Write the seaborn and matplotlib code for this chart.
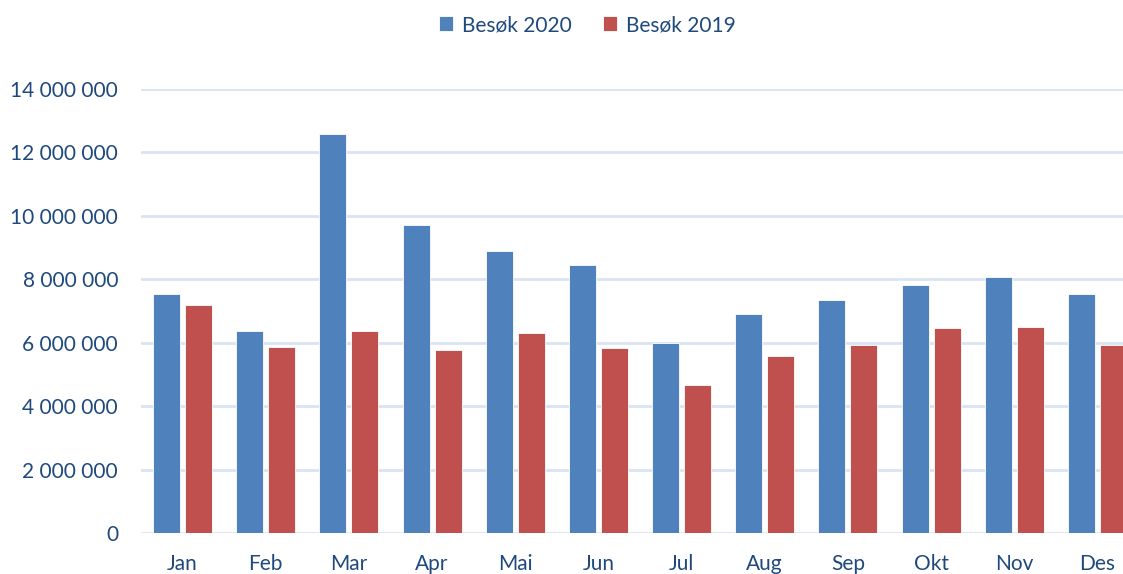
import pandas as pd
import matplotlib.pyplot as plt
import matplotlib.ticker as mticker
import seaborn as sns

# data
months = ['Jan', 'Feb', 'Mar', 'Apr', 'Mai', 'Jun', 'Jul', 'Aug', 'Sep', 'Okt', 'Nov', 'Des']
besok_2020 = [7540000, 6360000, 12580000, 9710000, 8890000, 8450000,
              5990000, 6910000, 7350000, 7820000, 8080000, 7530000]
besok_2019 = [7200000, 5870000, 6370000, 5770000, 6310000, 5830000,
              4670000, 5580000, 5930000, 6460000, 6490000, 5930000]
series = ['Besøk 2020', 'Besøk 2019']

df = pd.DataFrame({
    'Måned': months * 2,
    'Besøk': besok_2020 + besok_2019,
    'Serie': [series[0]] * len(months) + [series[1]] * len(months),
})

text_color = '#1F497D'
grid_color = '#D9E3F2'

sns.set_style('white')
plt.rcParams['font.family'] = ['Lato', 'DejaVu Sans']

fig = plt.figure(figsize=(11.23, 5.74), dpi=100)
# axes runs a bit past the right edge, like the cropped original
ax = fig.add_axes([141 / 1123, 41 / 574, 998 / 1123, 444 / 574])

sns.barplot(data=df, x='Måned', y='Besøk', hue='Serie', hue_order=series,
            palette=['#4F81BD', '#C0504D'], width=0.77, gap=0.155,
            edgecolor='white', linewidth=0.6, saturation=1, ax=ax, zorder=3)

ax.set_ylim(0, 14000000)
ax.yaxis.set_major_locator(mticker.MultipleLocator(2000000))
ax.yaxis.set_major_formatter(mticker.FuncFormatter(lambda v, p: f'{int(v):,}'.replace(',', ' ')))
ax.grid(axis='y', color=grid_color, linewidth=2, zorder=0)
ax.set_axisbelow(True)
for s in ax.spines.values():
    s.set_visible(False)
ax.set_xlabel('')
ax.set_ylabel('')
ax.tick_params(axis='y', length=0, pad=16.5, labelsize=15, labelcolor=text_color)
ax.tick_params(axis='x', length=0, pad=15, labelsize=15, labelcolor=text_color)

ax.legend_.remove()
handles, labels = ax.get_legend_handles_labels()
fig.legend(handles, labels, loc='center', bbox_to_anchor=(587 / 1123, 1 - 25 / 574),
           ncol=2, frameon=False, fontsize=15, labelcolor=text_color,
           handlelength=0.7, handleheight=0.7, handletextpad=0.4, columnspacing=1.5)

plt.savefig('out.png', dpi=100)
